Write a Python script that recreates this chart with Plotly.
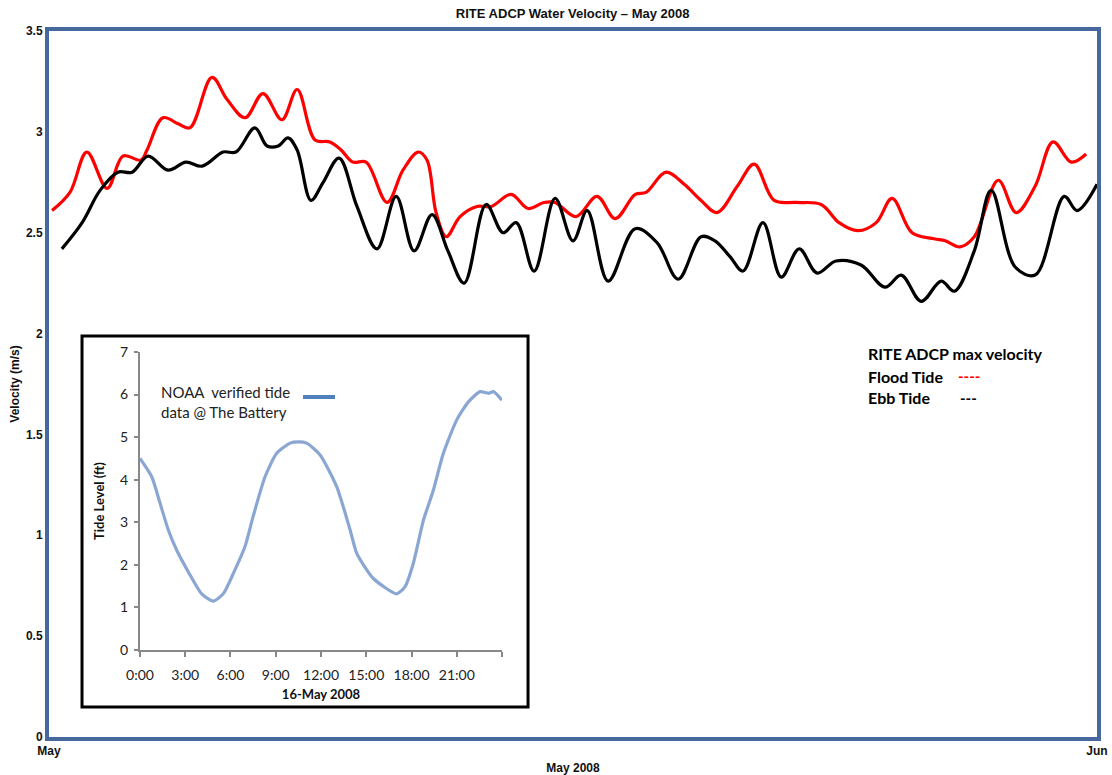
import pandas as pd
import plotly.graph_objects as go

# ---- RITE ADCP max velocity, May 2008 (days since 1 May, m/s) ----
flood_day = [0.09, 0.62, 1.12, 1.72, 2.19, 2.72, 2.90, 3.37, 3.82, 4.17, 4.82, 5.27,
             5.80, 6.33, 6.89, 7.34, 7.87, 8.31, 8.64, 8.99, 9.38, 10.00, 10.47, 10.92,
             11.18, 11.45, 11.75, 12.16, 12.66, 13.08, 13.67, 14.17, 14.64, 14.97, 15.59,
             16.21, 16.75, 17.34, 17.66, 18.25, 18.79, 19.29, 19.76, 20.36, 20.86, 21.45,
             22.10, 22.84, 23.37, 23.93, 24.47, 24.94, 25.53, 26.18, 26.51, 26.95, 27.37,
             28.08, 28.61, 29.17, 29.70, 30.24, 30.68]
flood_vel = [2.61, 2.70, 2.90, 2.72, 2.88, 2.86, 2.91, 3.07, 3.04, 3.02, 3.27, 3.16,
             3.07, 3.19, 3.06, 3.21, 2.96, 2.95, 2.91, 2.85, 2.85, 2.65, 2.81, 2.90,
             2.86, 2.60, 2.48, 2.58, 2.63, 2.63, 2.69, 2.62, 2.65, 2.65, 2.58,
             2.68, 2.57, 2.69, 2.70, 2.80, 2.74, 2.66, 2.60, 2.73, 2.84, 2.66,
             2.65, 2.64, 2.55, 2.51, 2.55, 2.67, 2.50, 2.47, 2.46, 2.43, 2.48,
             2.76, 2.60, 2.73, 2.95, 2.85, 2.89]

ebb_day = [0.38, 0.98, 1.51, 2.04, 2.46, 2.93, 3.52, 4.05, 4.53, 5.15, 5.53, 6.09,
           6.45, 6.78, 7.07, 7.34, 7.75, 8.11, 8.58, 9.11, 9.70, 10.27, 10.80, 11.33,
           11.80, 12.28, 12.93, 13.43, 13.82, 14.35, 14.97, 15.50, 15.92, 16.54, 17.34,
           17.99, 18.61, 19.29, 19.70, 20.15, 20.53, 21.12, 21.66, 22.19, 22.72, 23.28,
           24.02, 24.73, 25.21, 25.80, 26.39, 26.78, 27.37, 27.87, 28.58, 29.17, 30.03,
           30.41, 31.00]
ebb_vel = [2.42, 2.55, 2.71, 2.80, 2.80, 2.88, 2.81, 2.85, 2.83, 2.90, 2.90, 3.02,
           2.93, 2.93, 2.97, 2.91, 2.66, 2.75, 2.87, 2.63, 2.42, 2.68, 2.41, 2.59,
           2.41, 2.25, 2.64, 2.50, 2.55, 2.31, 2.67, 2.46, 2.61, 2.26, 2.52,
           2.45, 2.27, 2.48, 2.46, 2.38, 2.31, 2.55, 2.28, 2.42, 2.30, 2.36,
           2.34, 2.23, 2.29, 2.16, 2.26, 2.21, 2.41, 2.71, 2.33, 2.29, 2.68,
           2.61, 2.74]

vel_ticks = [0, 0.5, 1, 1.5, 2, 2.5, 3, 3.5]
vel_tick_text = ["0", "0.5", "1", "1.5", "2", "2.5", "3", "3.5"]

# ---- NOAA verified tide at The Battery, 16 May 2008 (hours, ft) ----
tide_hour = [0.0, 0.78, 1.33, 1.88, 2.43, 3.2, 4.09, 4.86, 5.52, 6.19, 6.96, 7.51,
             8.29, 9.06, 9.95, 10.5, 11.05, 11.94, 13.04, 13.93, 14.37, 15.47, 17.02,
             17.57, 18.12, 18.79, 19.45, 20.11, 20.99, 21.77, 22.55, 23.1, 23.43, 23.99]
tide_ft = [4.50, 4.07, 3.45, 2.82, 2.35, 1.84, 1.32, 1.15, 1.32, 1.80, 2.43, 3.15,
           4.07, 4.62, 4.86, 4.89, 4.86, 4.58, 3.84, 2.82, 2.27, 1.68, 1.32,
           1.49, 2.04, 3.05, 3.76, 4.62, 5.40, 5.83, 6.07, 6.03, 6.07, 5.87]
hour_ticks = [0, 3, 6, 9, 12, 15, 18, 21, 24]
hour_tick_text = ["0:00", "3:00", "6:00", "9:00", "12:00", "15:00", "18:00", "21:00", ""]
ft_ticks = [0, 1, 2, 3, 4, 5, 6, 7]

start = pd.Timestamp("2008-05-01")
flood_x = start + pd.to_timedelta(flood_day, unit="D")
ebb_x = start + pd.to_timedelta(ebb_day, unit="D")

FRAME = "#46689a"
HELV = "Liberation Sans, Arial, sans-serif"
CAL = "Lato, Carlito, sans-serif"

fig = go.Figure()
fig.add_trace(go.Scatter(x=flood_x, y=flood_vel, mode="lines",
                         line=dict(color="#ff0000", width=3.2, shape="spline", smoothing=1.0),
                         xaxis="x", yaxis="y", hoverinfo="skip"))
fig.add_trace(go.Scatter(x=ebb_x, y=ebb_vel, mode="lines",
                         line=dict(color="#000000", width=3.2, shape="spline", smoothing=1.0),
                         xaxis="x", yaxis="y", hoverinfo="skip"))
fig.add_trace(go.Scatter(x=tide_hour, y=tide_ft, mode="lines",
                         line=dict(color="#8aa6d2", width=3.2, shape="spline", smoothing=0.6),
                         xaxis="x2", yaxis="y2", hoverinfo="skip"))

# inset axes area in paper coordinates
ix0, ix1 = 0.0868, 0.4323
iy0, iy1 = 0.1232, 0.5453

fig.update_layout(
    width=1112, height=775,
    margin=dict(l=49, r=15, t=31, b=38),
    paper_bgcolor="white", plot_bgcolor="white",
    showlegend=False,
    title=dict(text="RITE ADCP Water Velocity – May 2008", x=0.515, xanchor="center",
               y=0.983, yanchor="middle",
               font=dict(family=HELV, size=13, color="#111111", weight="bold")),
    xaxis=dict(type="date", range=["2008-05-01", "2008-06-01"], automargin=False,
               tickvals=["2008-05-01", "2008-06-01"], ticktext=["May", "Jun"],
               showgrid=False, zeroline=False, ticks="",
               showline=True, mirror=True, linecolor=FRAME, linewidth=4,
               tickfont=dict(family=HELV, size=12, color="#111111", weight="bold"),
               title=dict(text="May 2008", standoff=8,
                          font=dict(family=HELV, size=12, color="#111111", weight="bold"))),
    yaxis=dict(range=[0, 3.5], tickvals=vel_ticks, ticktext=vel_tick_text, automargin=False,
               showgrid=False, zeroline=False, ticks="",
               showline=True, mirror=True, linecolor=FRAME, linewidth=4,
               tickfont=dict(family=HELV, size=12, color="#111111", weight="bold"),
               title=dict(text="Velocity (m/s)", standoff=5,
                          font=dict(family=HELV, size=12, color="#111111", weight="bold"))),
    xaxis2=dict(domain=[ix0, ix1], anchor="y2", range=[0, 24], automargin=False,
                tickvals=hour_ticks, ticktext=hour_tick_text,
                showgrid=False, zeroline=False, showline=True, linecolor="#888888",
                linewidth=2, ticks="outside", ticklen=5, tickcolor="#888888", tickwidth=1.5,
                ticklabelstandoff=6,
                tickfont=dict(family=CAL, size=14, color="#222222"),
                title=dict(text="16-May 2008", standoff=8,
                           font=dict(family=CAL, size=13, color="#111111", weight="bold"))),
    yaxis2=dict(domain=[iy0, iy1], anchor="x2", range=[0, 7], tickvals=ft_ticks,
                automargin=False, ticklabelstandoff=3,
                showgrid=False, zeroline=False, showline=True, linecolor="#888888",
                linewidth=2, ticks="outside", ticklen=4, tickcolor="#888888", tickwidth=1.5,
                tickfont=dict(family=CAL, size=14, color="#222222"),
                title=dict(text="Tide Level (ft)", standoff=12,
                           font=dict(family=CAL, size=13, color="#111111", weight="bold"))),
)

# white inset box with black border
fig.add_shape(type="rect", xref="paper", yref="paper",
              x0=0.0315, x1=0.4571, y0=0.0425, y1=0.568,
              line=dict(color="black", width=3), fillcolor="white", layer="below")

# inset legend
fig.add_annotation(xref="paper", yref="paper", x=0.1045, y=0.4745, xanchor="left",
                   yanchor="middle", align="left", showarrow=False,
                   text="NOAA  verified tide<br>data @ The Battery",
                   font=dict(family=CAL, size=15, color="#222222"))
fig.add_shape(type="line", xref="paper", yref="paper",
              x0=0.2424, x1=0.2729, y0=0.4816, y1=0.4816,
              line=dict(color="#4f81bd", width=4))

# main chart key
key_font = dict(family=CAL, size=16, color="#000000", weight="bold")
fig.add_annotation(xref="paper", yref="paper", x=0.7795, y=0.5439, xanchor="left",
                   yanchor="middle", showarrow=False, text="RITE ADCP max velocity", font=key_font)
fig.add_annotation(xref="paper", yref="paper", x=0.7795, y=0.5113, xanchor="left",
                   yanchor="middle", showarrow=False, text="Flood Tide", font=key_font)
fig.add_annotation(xref="paper", yref="paper", x=0.8655, y=0.5113, xanchor="left",
                   yanchor="middle", showarrow=False, text="----",
                   font=dict(family=CAL, size=15, color="#ff0000", weight="bold"))
fig.add_annotation(xref="paper", yref="paper", x=0.8675, y=0.4802, xanchor="left",
                   yanchor="middle", showarrow=False, text="---",
                   font=dict(family=CAL, size=15, color="#000000", weight="bold"))
fig.add_annotation(xref="paper", yref="paper", x=0.7795, y=0.4802, xanchor="left",
                   yanchor="middle", showarrow=False, text="Ebb Tide", font=key_font)

fig.write_html("out.html")
